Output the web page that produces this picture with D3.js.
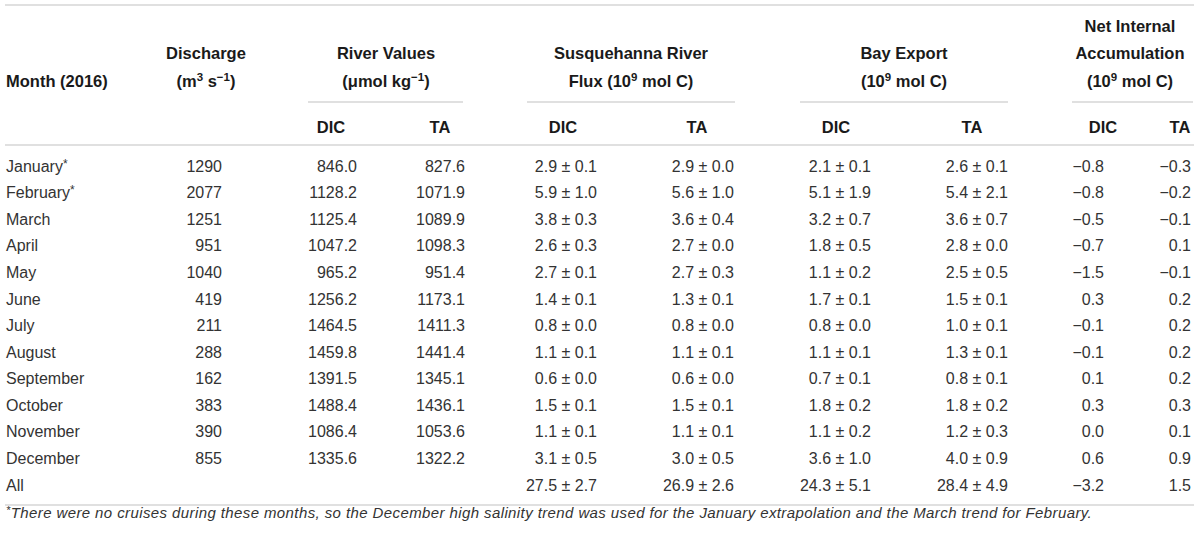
<!DOCTYPE html>
<html>
<head>
<meta charset="utf-8">
<script src="https://cdn.jsdelivr.net/npm/d3@7"></script>
<style>
  body { margin: 0; background: #fff; }
  svg { display: block; }
  text { font-family: "Liberation Sans", Arial, sans-serif; fill: #333; }
  .hd { font-weight: bold; font-size: 16.5px; fill: #1a1a1a; }
  .cell { font-size: 16px; }
  .rule { stroke: #d6d6d6; stroke-width: 1.6; }
  .foot { font-size: 15px; font-style: italic; letter-spacing: 0.4px; }
</style>
</head>
<body>
<div id="chart"></div>
<script>
// table values
const months = ["January*", "February*", "March", "April", "May", "June", "July",
  "August", "September", "October", "November", "December"];
const discharge = [1290, 2077, 1251, 951, 1040, 419, 211, 288, 162, 383, 390, 855];
const riverDIC = [846.0, 1128.2, 1125.4, 1047.2, 965.2, 1256.2, 1464.5, 1459.8, 1391.5, 1488.4, 1086.4, 1335.6];
const riverTA = [827.6, 1071.9, 1089.9, 1098.3, 951.4, 1173.1, 1411.3, 1441.4, 1345.1, 1436.1, 1053.6, 1322.2];
// [value, uncertainty]; last entry is the "All" row
const susqDIC = [[2.9, 0.1], [5.9, 1.0], [3.8, 0.3], [2.6, 0.3], [2.7, 0.1], [1.4, 0.1], [0.8, 0.0],
  [1.1, 0.1], [0.6, 0.0], [1.5, 0.1], [1.1, 0.1], [3.1, 0.5], [27.5, 2.7]];
const susqTA = [[2.9, 0.0], [5.6, 1.0], [3.6, 0.4], [2.7, 0.0], [2.7, 0.3], [1.3, 0.1], [0.8, 0.0],
  [1.1, 0.1], [0.6, 0.0], [1.5, 0.1], [1.1, 0.1], [3.0, 0.5], [26.9, 2.6]];
const bayDIC = [[2.1, 0.1], [5.1, 1.9], [3.2, 0.7], [1.8, 0.5], [1.1, 0.2], [1.7, 0.1], [0.8, 0.0],
  [1.1, 0.1], [0.7, 0.1], [1.8, 0.2], [1.1, 0.2], [3.6, 1.0], [24.3, 5.1]];
const bayTA = [[2.6, 0.1], [5.4, 2.1], [3.6, 0.7], [2.8, 0.0], [2.5, 0.5], [1.5, 0.1], [1.0, 0.1],
  [1.3, 0.1], [0.8, 0.1], [1.8, 0.2], [1.2, 0.3], [4.0, 0.9], [28.4, 4.9]];
const netDIC = [-0.8, -0.8, -0.5, -0.7, -1.5, 0.3, -0.1, -0.1, 0.1, 0.3, 0.0, 0.6, -3.2];
const netTA = [-0.3, -0.2, -0.1, 0.1, -0.1, 0.2, 0.2, 0.2, 0.2, 0.3, 0.1, 0.9, 1.5];
const footnote = "There were no cruises during these months, so the December high salinity trend was used for the January extrapolation and the March trend for February.";

const width = 1200, height = 537;
const rowLabels = months.concat(["All"]);

const svg = d3.select("#chart").append("svg")
  .attr("width", width).attr("height", height);

// rows on a point scale
const y = d3.scalePoint().domain(rowLabels).range([166, 485]);

const f1 = d3.format(".1f");
const signed = (v) => f1(v).replace("-", "\u2212");
const pm = (d) => d ? `${f1(d[0])} \u00b1 ${f1(d[1])}` : "";

// column layout: right edge of values
const columns = [
  { values: discharge.map(String), x: 222 },
  { values: riverDIC.map(f1), x: 357 },
  { values: riverTA.map(f1), x: 465 },
  { values: susqDIC.map(pm), x: 597 },
  { values: susqTA.map(pm), x: 734 },
  { values: bayDIC.map(pm), x: 871 },
  { values: bayTA.map(pm), x: 1008 },
  { values: netDIC.map(signed), x: 1104 },
  { values: netTA.map(signed), x: 1191 }
];

// horizontal rules
const rules = [
  { x1: 5, x2: 1194, y: 5 },
  { x1: 5, x2: 1194, y: 145 },
  { x1: 5, x2: 1194, y: 505 },
  { x1: 308, x2: 463, y: 102 },
  { x1: 527, x2: 735, y: 102 },
  { x1: 800, x2: 1008, y: 102 },
  { x1: 1072, x2: 1193, y: 102 }
];
svg.append("g").selectAll("line").data(rules).join("line")
  .attr("class", "rule")
  .attr("x1", (d) => d.x1).attr("x2", (d) => d.x2)
  .attr("y1", (d) => d.y).attr("y2", (d) => d.y);

// header text; parts are [text, isSuperscript]
const header = [
  { x: 6, y: 81, anchor: "start", lines: [[["Month (2016)"]]] },
  { x: 206, y: 53.5, anchor: "middle", lines: [[["Discharge"]], [["(m"], ["3", 1], [" s"], ["\u22121", 1], [")"]]] },
  { x: 386, y: 53.5, anchor: "middle", lines: [[["River Values"]], [["(\u03bcmol kg"], ["\u22121", 1], [")"]]] },
  { x: 631, y: 53.5, anchor: "middle", lines: [[["Susquehanna River"]], [["Flux (10"], ["9", 1], [" mol C)"]]] },
  { x: 904, y: 53.5, anchor: "middle", lines: [[["Bay Export"]], [["(10"], ["9", 1], [" mol C)"]]] },
  { x: 1130, y: 26, anchor: "middle", lines: [[["Net Internal"]], [["Accumulation"]], [["(10"], ["9", 1], [" mol C)"]]] }
];
const sub = [
  { t: "DIC", x: 331 }, { t: "TA", x: 440 },
  { t: "DIC", x: 563 }, { t: "TA", x: 697 },
  { t: "DIC", x: 836 }, { t: "TA", x: 972 },
  { t: "DIC", x: 1103 }, { t: "TA", x: 1180 }
];

const hg = svg.append("g");
header.forEach((h) => {
  h.lines.forEach((parts, li) => {
    const t = hg.append("text")
      .attr("class", "hd")
      .attr("x", h.x)
      .attr("y", h.y + li * 27.5)
      .attr("dy", "0.35em")
      .attr("text-anchor", h.anchor);
    parts.forEach((p, pi) => {
      const sp = t.append("tspan").text(p[0]);
      if (p[1]) sp.attr("dy", -6).attr("font-size", 11.5);
      else if (pi > 0) sp.attr("dy", 6);
    });
  });
});
hg.selectAll("text.sub").data(sub).join("text")
  .attr("class", "hd sub")
  .attr("x", (d) => d.x).attr("y", 127)
  .attr("dy", "0.35em")
  .attr("text-anchor", "middle")
  .text((d) => d.t);

// body rows
const body = svg.append("g");
body.selectAll("text.month").data(rowLabels).join("text")
  .attr("class", "cell month")
  .attr("x", 6)
  .attr("y", (d) => y(d))
  .attr("dy", "0.35em")
  .each(function (d) {
    const t = d3.select(this);
    t.append("tspan").text(d.replace("*", ""));
    if (d.endsWith("*")) t.append("tspan").attr("dy", -4).attr("font-size", 12).text("*");
  });

columns.forEach((c) => {
  body.append("g").selectAll("text").data(c.values).join("text")
    .attr("class", "cell")
    .attr("x", c.x)
    .attr("y", (d, i) => y(rowLabels[i]))
    .attr("dy", "0.35em")
    .attr("text-anchor", "end")
    .text((d) => d);
});

// footnote
const ft = svg.append("text")
  .attr("class", "foot")
  .attr("x", 6).attr("y", 518)
  .attr("dy", "0.35em");
ft.append("tspan").attr("font-size", 11).attr("dy", -4).text("*");
ft.append("tspan").attr("dy", 4).text(footnote);
</script>
</body>
</html>
